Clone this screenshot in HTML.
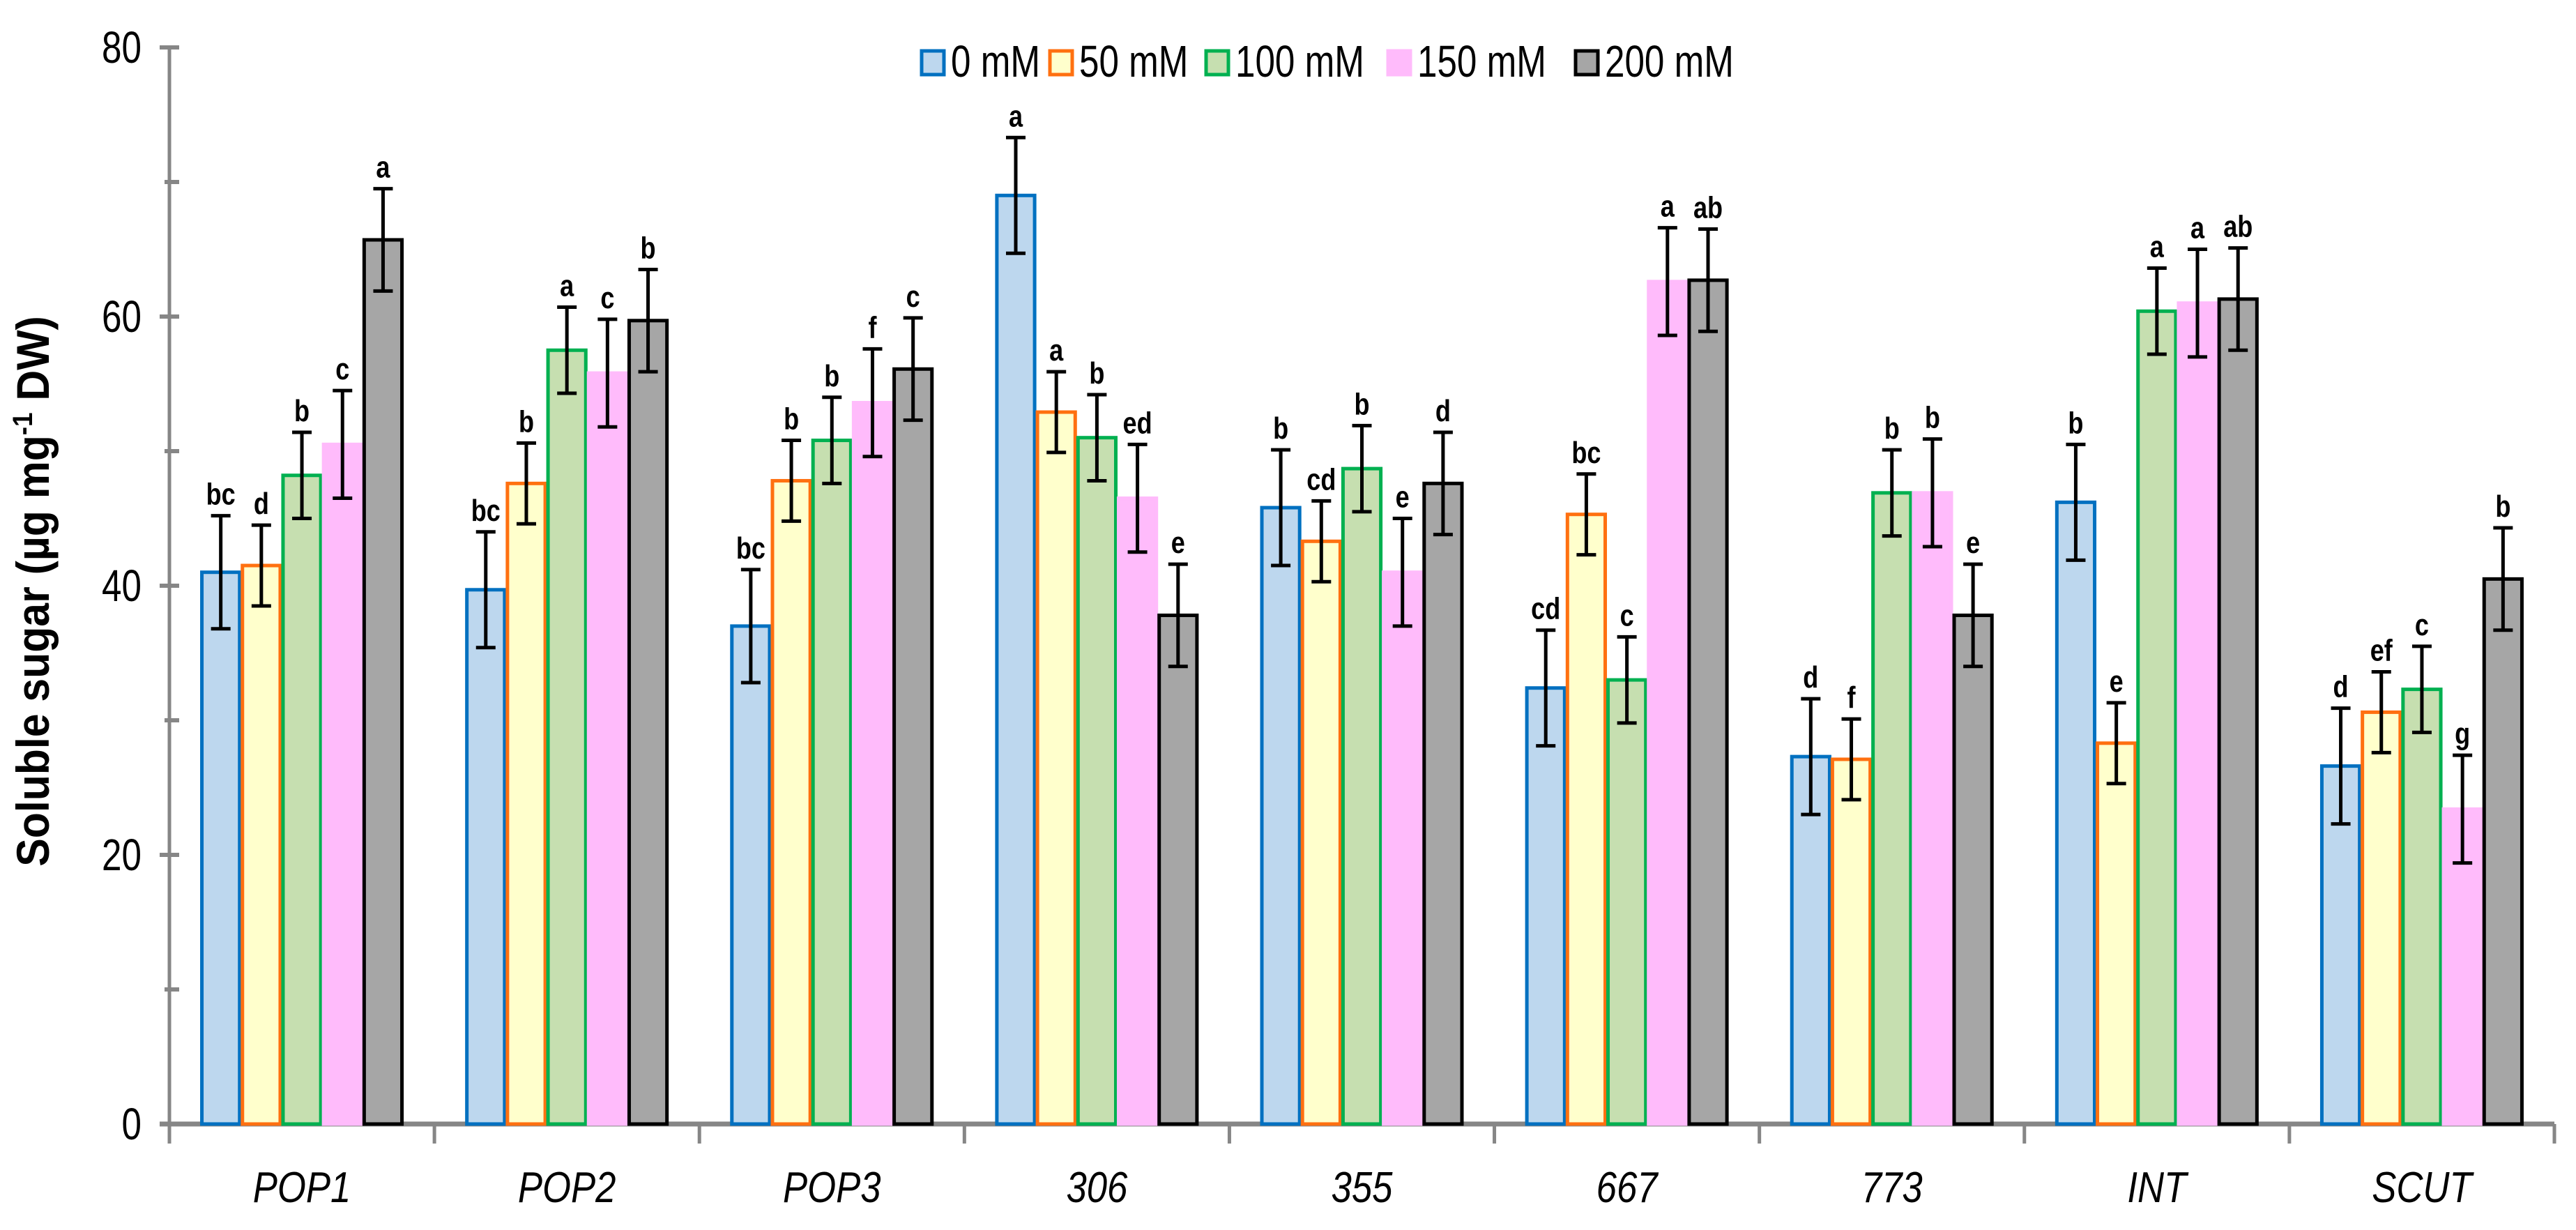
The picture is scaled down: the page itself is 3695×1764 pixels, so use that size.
<!DOCTYPE html>
<html><head><meta charset="utf-8"><style>
html,body{margin:0;padding:0;background:#fff;}
svg{display:block;font-family:"Liberation Sans",Arial,sans-serif;}
</style></head><body>
<svg id="chart" width="3695" height="1764" viewBox="0 0 3695 1764" xmlns="http://www.w3.org/2000/svg">
<g id="axes"></g>
<g id="bars"></g>
<g id="legend"></g>
<text transform="translate(70,848) rotate(-90) scale(0.92,1)" text-anchor="middle" font-size="66" font-weight="bold">Soluble sugar (µg mg<tspan font-size="40" dy="-24">-1</tspan><tspan dy="24"> DW)</tspan></text>
</svg>
<script>
const categories = ["POP1","POP2","POP3","306","355","667","773","INT","SCUT"];
const seriesNames = ["0 mM","50 mM","100 mM","150 mM","200 mM"];
const s0 = [41.0,39.7,37.0,69.0,45.8,32.4,27.3,46.2,26.6];
const s50 = [41.5,47.6,47.8,52.9,43.3,45.3,27.1,28.3,30.6];
const s100 = [48.2,57.5,50.8,51.0,48.7,33.0,46.9,60.4,32.3];
const s150 = [50.5,55.8,53.6,46.5,41.0,62.6,46.9,61.0,23.4];
const s200 = [65.7,59.7,56.1,37.8,47.6,62.7,37.8,61.3,40.5];
const e0 = [4.2,4.3,4.2,4.3,4.3,4.3,4.3,4.3,4.3];
const e50 = [3.0,3.0,3.0,3.0,3.0,3.0,3.0,3.0,3.0];
const e100 = [3.2,3.2,3.2,3.2,3.2,3.2,3.2,3.2,3.2];
const e150 = [4.0,4.0,4.0,4.0,4.0,4.0,4.0,4.0,4.0];
const e200 = [3.8,3.8,3.8,3.8,3.8,3.8,3.8,3.8,3.8];
const l0 = ["bc","bc","bc","a","b","cd","d","b","d"];
const l50 = ["d","b","b","a","cd","bc","f","e","ef"];
const l100 = ["b","a","b","b","b","c","b","a","c"];
const l150 = ["c","c","f","ed","e","a","b","a","g"];
const l200 = ["a","b","c","e","d","ab","e","ab","b"];
const yTicks = [0,20,40,60,80];

const NS="http://www.w3.org/2000/svg";
const X0=243, X1=3664, Y0=1612, Y80=68;
const fills=["#bdd7ee","#ffffcc","#c6dfb0","#ffbbfb","#a6a6a6"];
const strokes=["#0070c0","#ff7010","#00b050","#ffbbfb","#000000"];
const vals=[s0,s50,s100,s150,s200], errs=[e0,e50,e100,e150,e200], lets=[l0,l50,l100,l150,l200];
function y(v){return Y0-(v/80)*(Y0-Y80);}
const catW=(X1-X0)/categories.length, barW=58.2, pad=(catW-5*barW)/2;
function bx(c,s){return X0+c*catW+pad+s*barW;}
function mk(tag,attrs,parent){const e=document.createElementNS(NS,tag);for(const k in attrs)e.setAttribute(k,attrs[k]);parent.appendChild(e);return e;}
function txt(x,yy,sx,attrs,parent){attrs.transform=`translate(${x},${yy}) scale(${sx},1)`;attrs.x=0;attrs.y=0;return mk('text',attrs,parent);}
const axes=document.getElementById('axes'), bars=document.getElementById('bars'), legend=document.getElementById('legend');

for(let s=0;s<5;s++){
  for(let c=0;c<categories.length;c++){
    const v=vals[s][c], x=bx(c,s);
    const r=mk('rect',{x:x+2,y:y(v),width:barW-4,height:Y0-y(v),fill:fills[s],stroke:strokes[s],'stroke-width':5},bars);
    
    
    const cx=x+barW/2, top=y(v+errs[s][c]), bot=y(v-errs[s][c]);
    const eb=mk('path',{d:`M${cx},${top}V${bot}M${cx-14},${top}H${cx+14}M${cx-14},${bot}H${cx+14}`,stroke:'#000','stroke-width':5,fill:'none'},bars);
    
    
    const t=txt(cx,top-16,0.82,{'text-anchor':'middle','font-size':44,'font-weight':'bold'},bars);
    t.textContent=lets[s][c];
    
    
  }
}
const ya=mk('line',{x1:X0,y1:Y80,x2:X0,y2:Y0,stroke:'#868686','stroke-width':5},axes);


for(let v=0;v<=80;v+=10){
  const major=v%20===0;
  mk('line',{x1:major?X0-14:X0-7,x2:X0+14,y1:y(v),y2:y(v),stroke:'#868686','stroke-width':6},axes);
}
yTicks.forEach(v=>{
  const t=txt(X0-40,y(v)+22,0.8,{'text-anchor':'end','font-size':64},axes);
  t.textContent=v;
  
  
});
const xa=mk('line',{x1:X0-14,y1:Y0,x2:X1,y2:Y0,stroke:'#868686','stroke-width':7},axes);


for(let c=0;c<=categories.length;c++){
  mk('line',{x1:X0+c*catW,x2:X0+c*catW,y1:Y0,y2:Y0+28,stroke:'#868686','stroke-width':5},axes);
}
categories.forEach((n,c)=>{
  const t=txt(X0+c*catW+catW/2,Y0+112,0.85,{'text-anchor':'middle','font-size':62,'font-style':'italic'},axes);
  t.textContent=n;
  
  
});
const lx=[1322,1506,1730,1991,2260];
seriesNames.forEach((n,s)=>{
  const g=mk('g',{},legend);
  
  
  mk('rect',{x:lx[s],y:73,width:32,height:34,fill:fills[s],stroke:strokes[s],'stroke-width':5},g);
  const t=txt(lx[s]+42,110,0.8,{'font-size':64},g);
  t.textContent=n;
});
</script>
</body></html>
